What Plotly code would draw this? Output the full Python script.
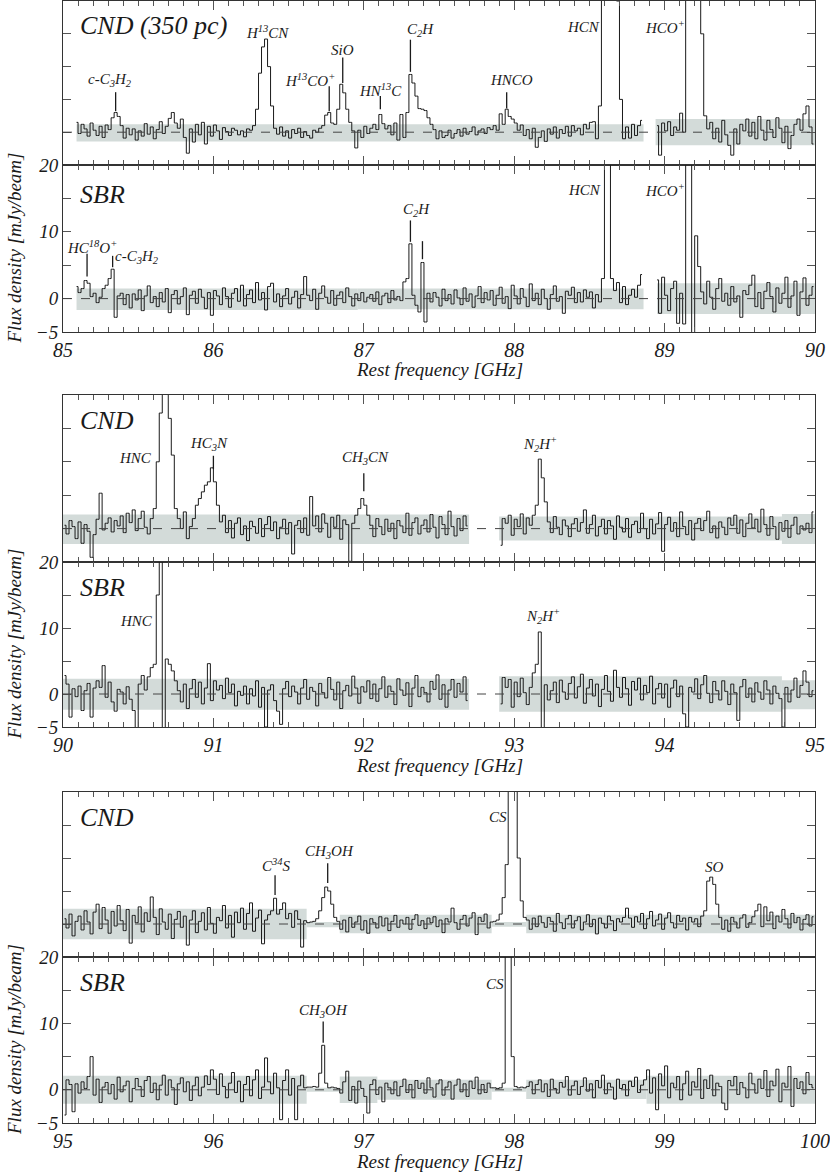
import numpy as np
import plotly.graph_objects as go

N = None
# ---------------- DATA (mJy/beam), channel width 0.02 GHz ----------------
# 85-90 GHz: channels start at 85.05 GHz
CND_85_90 = [
    N, N, 1.5, -0.2, 1.2, 0.5, -0.6, 1.4, 0.3, -0.5,
    0.9, -0.8, 1.1, 0.4, 2.2, 3.0, 2.4, 1.0, -0.9, 0.6,
    -0.4, 0.5, -1.2, 0.2, -0.6, 1.3, -0.3, 0.8, -1.0, 0.4,
    1.6, -0.2, 0.9, 2.1, 3.0, 1.4, 0.6, 2.0, -0.8, -3.2,
    0.5, -1.5, 1.2, -0.4, 1.5, -1.8, 0.9, -0.6, 1.1, 0.2,
    -1.1, 0.7, 0.1, -0.5, 0.6, 0.3, -0.4, 0.2, -0.7, 0.5,
    0.3, 1.0, 3.5, 9.0, 13.0, 14.2, 10.0, 4.0, 0.6, -0.3,
    0.8, -0.6, 0.2, -0.9, 0.4, -0.2, 0.6, -0.8, 0.1, -0.5,
    -0.9, 0.3, 0.0, 0.6, 1.0, 2.6, 3.0, 1.4, 1.2, 3.5,
    7.3, 6.0, 3.5, 1.5, 0.2, -2.4, 0.3, -0.8, 0.9, -0.2,
    0.6, 1.2, 0.4, 2.7, 1.3, 0.5, 1.0, -0.4, 1.4, -1.2,
    2.7, -0.8, 3.0, 8.8, 7.5, 5.5, 3.6, 3.5, 3.3, 2.2,
    1.2, 0.4, -1.0, 0.2, -0.8, -0.5, 0.3, -0.9, -0.2, 0.4,
    -0.6, 0.6, -0.3, 0.1, 0.8, -0.4, 0.2, 0.5, -0.2, 0.7,
    0.4, 1.0, 0.3, 2.8, 1.2, 3.5, 2.4, 2.0, 1.4, 0.3,
    1.1, -0.5, 0.4, -1.0, 0.6, -2.3, -0.8, 0.2, -1.4, 0.5,
    -0.3, 0.8, -0.9, 0.4, -0.2, 0.9, -0.6, 1.0, 0.2, 0.6,
    -0.4, 1.2, 0.5, 1.5, 1.6, -1.0, 4.0, 22.0, 40.0, 50.0,
    48.0, 38.0, 20.0, 5.0, -1.0, 0.8, -0.9, 1.2, -0.5, 1.0,
    1.8, N, N, N, N, 1.0, -3.5, 1.4, 0.2, 1.6,
    -0.5, 0.8, 0.3, 2.9, 0.0, 22.0, 45.0, 60.0, 58.0, 40.0,
    15.0, 2.5, 0.5, 1.5, -1.0, 0.6, -1.5, 1.8, -0.4, -2.0,
    -3.5, 0.5, -1.8, 1.2, 0.2, 2.0, -0.6, 1.5, -1.0, 2.4,
    0.3, -1.2, 1.8, 0.4, -0.8, 2.2, 0.6, -1.6, 0.9, -2.5,
    -0.5, 1.2, 2.0, 0.3, 2.8, 4.0, 0.8, -1.8,
]
SBR_85_90 = [
    N, N, 1.8, 0.9, 1.5, 2.7, 2.3, 0.3, 0.8, -0.6,
    0.2, 1.5, 2.0, 3.0, 4.4, -2.8, 0.4, 0.8, -0.9, 0.6,
    -1.4, 0.7, -0.2, 1.3, -1.8, 0.4, 1.9, -0.6, 0.3, -1.2,
    0.9, -0.5, 1.5, -2.1, 0.6, 1.2, -0.8, 0.3, 1.6, -2.4,
    0.5, 1.1, -0.7, 1.4, 0.2, -1.5, 0.9, -2.5, 1.2, 0.4,
    -0.9, 1.6, 0.3, -1.3, 0.8, 1.5, -0.4, 2.0, -1.1, 0.6,
    1.3, -0.6, 2.4, -0.2, 0.9, -1.7, 1.8, 2.3, -0.5, 0.7,
    -1.2, 0.4, 1.5, -0.8, 0.2, 1.1, -1.4, 0.6, 3.3, 0.5,
    -0.3, 1.4, -1.6, 0.8, 1.9, 0.2, -0.7, 1.2, -1.0, 0.5,
    1.0, -0.6, 1.6, 0.3, -1.1, 0.7, -0.3, 0.9, -0.5, 0.2,
    0.6, -0.4, 1.0, -0.9, 0.4, 0.8, -0.6, 1.2, -0.2, 0.3,
    -0.3, 2.5, 3.0, 8.2, 0.5, -1.0, -2.0, 5.4, -3.5, 0.8,
    -0.5, 0.9, 0.2, -1.1, 1.4, -0.3, 0.6, -0.8, 1.3, 0.1,
    -0.9, 1.6, -0.4, 0.7, -1.3, 0.4, 1.8, -0.6, 0.9, -0.2,
    1.2, -1.0, 0.5, 1.7, -0.7, 0.3, -1.5, 2.0, 0.4, -0.8,
    1.5, 0.2, -1.2, 2.2, -0.3, 0.8, -0.9, 1.4, 0.0, -1.6,
    0.6, 1.9, -0.4, 0.3, -2.2, 1.1, 0.5, 1.7, -0.6, 0.9,
    -0.5, 1.3, 0.2, 1.0, -1.4, 0.6, -0.5, 3.0, 40.0, 32.0,
    3.0, 1.2, 2.4, -0.6, 1.8, -0.9, 0.5, 1.4, 0.2, 2.0,
    3.6, N, N, N, N, 2.8, -2.2, 3.2, 0.5, -1.8,
    1.5, 2.6, -3.7, 0.8, -3.8, 40.0, 50.0, -8.0, 9.4, 4.8,
    1.0, -0.8, 2.6, 0.2, -1.6, 1.5, 3.0, -0.4, 0.8, -1.0,
    1.8, -0.5, 0.4, -2.8, 1.2, 0.6, 2.0, 3.5, -1.2, 0.9,
    -1.5, 1.1, 2.4, 0.3, -2.0, 1.6, -0.7, 0.8, 3.2, -1.3,
    0.4, 2.6, -2.5, 1.0, 3.1, -1.0, 0.5, 1.8,
]
# 90-95 GHz: channels start at 90.01 GHz
CND_90_95 = [
    0.5, -0.8, 1.2, 0.3, -1.5, 1.0, -2.2, 0.6, -0.4, -4.3,
    -0.9, 1.4, 5.3, -0.2, 0.8, 1.6, -0.5, 1.2, 0.4, 1.9,
    -0.6, 2.3, 0.9, 2.8, -0.3, 1.5, 2.6, 0.2, -0.8, 1.5,
    3.0, 10.0, 17.3, 22.0, 24.0, 16.5, 11.0, 3.0, 1.5, 0.0,
    2.5, -1.5, 0.3, 1.5, 3.5, 4.5, 5.5, 6.5, 7.0, 9.1,
    7.0, 3.5, 1.0, 2.0, -0.6, 1.2, -1.4, 0.8, 1.6, -0.9,
    0.4, -1.8, 1.1, 0.3, -0.7, 1.5, -1.2, 0.6, 1.8, -0.3,
    1.0, -1.5, 0.2, 1.4, -0.8, 0.9, -3.8, 0.5, 1.2, -0.6,
    1.6, -1.0, 4.8, 0.4, 1.9, -0.5, 2.2, 0.8, -1.3, 1.7,
    0.2, 2.0, -1.6, 1.3, 0.6, -4.9, 0.8, 2.0, 3.0, 4.5,
    3.5, 2.0, 0.5, -1.2, 1.5, 0.3, -0.9, 1.4, -0.4, 0.8,
    -1.5, 1.2, 0.4, -0.6, 2.3, -1.0, 0.9, 1.6, -0.8, 0.5,
    1.3, -0.5, 2.1, 0.2, -1.4, 1.8, 0.6, -0.9, 2.6, 0.3,
    -1.1, 1.5, -0.3, 1.9, 0.4, N, N, N, N, N,
    N, N, N, N, N, -2.5, 1.5, 0.8, 2.0, -1.0,
    1.4, 0.3, 2.2, -0.8, 1.6, 0.5, 2.0, 3.5, 10.4, 7.6,
    4.0, 1.0, -0.6, 1.8, 0.2, -0.9, 1.3, 0.4, -1.2, 0.7,
    1.5, -0.4, 0.9, 2.8, -0.7, 0.6, 2.0, -1.1, 0.3, 1.4,
    -0.8, 1.2, 0.4, -1.6, 1.9, 0.2, -0.5, 1.5, -1.3, 0.6,
    1.1, -0.6, 2.3, 0.0, -1.5, 1.4, -0.8, 0.7, 2.4, -3.4,
    0.6, 1.7, -0.4, 0.9, -1.2, 2.5, 0.3, -0.9, 1.2, -1.7,
    0.8, 1.5, -0.3, 1.2, 2.6, -0.6, 0.4, -1.4, 1.0, 0.2,
    -0.9, 1.6, 0.5, 2.0, -0.7, 1.3, -1.2, 0.8, 2.2, 0.1,
    1.4, -0.5, 2.9, 0.6, -1.0, 1.8, 0.3, -1.6, 0.9, -0.4,
    1.2, -1.3, 0.5, 1.7, -0.8, 0.4, -0.2, 0.8, -0.6, 2.5,
]
SBR_90_95 = [
    2.8, 1.5, -3.5, 0.8, -0.4, 1.2, -2.5, 0.5, 1.6, -3.5,
    0.9, 2.0, 1.0, 4.3, -0.5, 1.8, -1.2, -2.6, 0.7, 0.3,
    -1.5, 1.1, -0.8, -2.5, -5.5, 1.5, 2.8, 0.6, 2.6, 4.0,
    4.5, 15.0, 40.0, -8.0, 5.3, 4.5, 3.5, 2.0, 0.5, -1.2,
    1.5, -2.2, 0.8, 2.2, -0.5, 1.8, -1.5, 0.9, 4.6, -1.0,
    2.0, 0.6, 1.3, -0.7, 2.4, 0.2, 1.5, -1.8, 0.4, -0.2,
    1.2, -1.5, 0.8, -0.3, 2.0, -2.0, 1.0, -5.0, 0.6, 1.4,
    -1.0, -2.6, -4.6, 0.8, 1.9, -0.4, 1.2, 0.3, -1.5, 0.9,
    2.2, -0.8, 1.0, 0.4, -1.8, 1.6, 0.2, -0.6, 2.5, 0.7,
    -0.9, 1.8, -2.2, 0.5, 1.3, -0.3, 2.7, 0.9, -1.4, 1.1,
    0.3, 2.0, -0.7, 1.5, -1.1, 0.8, 2.6, -0.5, 1.2, 0.4,
    -1.6, 2.3, 0.6, -0.2, 1.7, -1.9, 0.9, 2.8, -0.4, 1.0,
    0.2, -1.2, 1.9, 0.7, 2.9, -0.8, 1.4, -2.0, 0.6, 2.2,
    -0.5, 1.6, 0.3, 2.6, -1.0, N, N, N, N, N,
    N, N, N, N, N, -1.5, 2.5, 1.0, 2.2, -2.0,
    1.8, -0.4, 2.4, 0.2, -1.6, 1.0, 3.2, 4.5, 9.4, -5.5,
    1.4, -0.9, 0.5, 1.8, -1.3, 2.1, 0.3, -0.8, 1.6, 2.6,
    -0.6, 1.1, 3.0, -1.4, 0.9, 2.2, -0.3, 1.5, -1.9, 0.7,
    2.8, 0.4, -1.1, 3.6, 1.0, -0.5, 2.5, 0.8, -1.7, 1.9,
    0.6, 2.4, -0.9, 1.3, 0.2, 2.7, -1.5, 0.8, 1.6, -0.6,
    1.5, -2.0, 0.9, 2.1, -0.4, 1.2, -3.0, -5.0, 1.0, 0.3,
    2.3, -0.7, 1.4, 2.8, 0.1, -1.3, 1.9, 0.5, -0.9, 2.0,
    0.4, -1.6, 1.5, 0.2, -4.0, 1.1, 2.2, -0.5, 0.9, -1.2,
    1.7, 0.3, -0.8, 2.0, 0.6, -1.5, 1.2, 0.1, -0.7, -5.0,
    1.0, -1.2, 0.6, 2.4, -0.5, 1.3, 3.5, 1.8, -0.4, 0.5,
]
# 95-100 GHz: channels start at 95.01 GHz
CND_95_100 = [
    0.8, -0.6, 1.5, -1.8, 0.4, 1.2, -0.9, 2.0, 0.3, -1.5,
    1.8, 3.0, -0.7, 2.5, 0.6, -1.4, 1.9, -0.3, 2.8, 0.5,
    -1.0, 2.2, -2.9, 1.3, 0.2, 2.6, -1.2, 1.7, 0.4, 4.1,
    1.0, -1.6, 2.3, 0.3, -0.8, 1.5, -2.2, 0.7, 1.9, -0.5,
    1.2, -3.2, 0.6, 2.0, -1.3, 0.4, 1.7, -0.9, 2.5, 0.1,
    -1.4, 1.0, 0.5, 2.8, -0.6, 1.3, -2.0, 1.8, 0.2, 2.4,
    -0.8, 1.6, 3.2, -1.1, 0.9, 2.1, -3.0, 0.6, 1.4, 2.0,
    3.9, 1.5, 2.2, 3.2, 0.8, 1.6, -0.5, 2.0, 0.7, -3.5,
    0.5, 0.2, 0.3, 0.4, 0.8, 2.0, 4.0, 5.6, 5.0, 3.0,
    1.0, 0.4, -0.8, 0.6, -1.2, 1.0, -0.5, 0.3, 1.2, -0.9,
    0.5, -1.4, 0.8, 0.2, -0.6, 1.1, -0.3, 0.9, -1.0, 0.4,
    1.3, -0.5, 0.6, 0.0, 1.0, -0.8, 0.7, 1.4, -0.2, 0.5,
    -0.7, 0.9, 0.2, 1.1, -0.4, 0.6, -1.3, 0.8, 0.3, 2.4,
    0.2, -0.8, 0.7, 1.3, -0.3, 0.9, 1.7, -1.6, 1.0, 0.4,
    1.5, -0.6, 0.3, 0.4, 0.6, 1.5, 4.0, 9.0, 22.0, 30.0,
    22.0, 10.0, 3.5, 1.0, 0.6, -0.8, 0.9, -0.4, 1.2, 0.2,
    -0.5, 1.0, 0.4, -1.1, 1.6, 0.2, -0.7, 0.8, 1.3, -0.6,
    0.5, 1.1, -0.9, 0.3, 1.4, -0.4, 0.7, -1.5, 0.9, 0.1,
    -0.6, 1.2, 0.5, -1.0, 0.8, 0.3, 1.0, 2.4, 0.9, -0.5,
    1.1, 0.3, 1.6, -0.7, 0.8, 1.9, -0.3, 0.6, 1.5, -0.8,
    0.9, 1.7, 0.2, -0.6, 1.3, 0.4, 0.9, -0.9, 1.0, 0.3,
    0.8, -0.4, 1.2, 2.0, 6.5, 7.1, 6.0, 3.0, 1.0, -0.8,
    0.6, -1.1, 1.0, 0.3, -0.6, 0.9, 1.4, -0.5, 0.2, 1.1,
    2.0, 3.0, -0.4, 2.6, 0.5, 1.8, -0.7, 1.2, 0.3, 2.2,
    0.8, -0.6, 1.6, 0.2, 1.0, -0.9, 0.7, 1.4, -0.3, 1.1,
]
SBR_95_100 = [
    -3.8, 1.5, 0.8, -3.3, 0.9, -0.5, 1.2, 0.2, 2.0, 5.0,
    -0.8, 1.6, -1.9, 0.4, 1.1, -0.6, 0.8, -1.4, 1.9, -0.3,
    0.6, 1.3, -1.8, 0.2, 1.7, 0.5, -1.0, 1.4, 2.0, -0.4,
    1.0, -1.5, 0.7, 2.2, -0.8, 1.5, 0.3, -2.2, 0.9, 1.8,
    -0.3, 1.2, -1.6, 0.6, 1.9, -0.9, 0.4, 2.1, 0.8, 3.0,
    1.6, -0.7, 2.4, 0.5, -1.2, 1.0, 2.6, -0.4, 1.3, -1.8,
    0.8, 2.0, -0.9, 1.5, 3.0, -1.3, 0.4, 4.8, 1.2, -0.6,
    2.5, 0.3, -4.5, 1.4, 3.0, -0.8, 1.7, -4.5, 0.6, 2.2,
    0.3, 0.4, 0.4, 0.5, 0.4, 2.5, 6.7, 1.0, 0.3, 0.4,
    0.3, 0.2, -0.5, 1.2, 2.8, -1.6, 0.5, -2.0, 1.3, 0.2,
    -1.0, -3.5, 0.8, 1.5, -0.7, 0.4, -1.8, 1.0, 0.3, -0.6,
    1.2, -0.9, 0.5, 1.6, -0.4, 0.8, -1.2, 1.4, 0.2, 1.0,
    -0.5, 1.8, 0.3, -1.1, 0.9, 1.5, -0.8, 0.4, 1.2, -1.4,
    0.7, 1.6, -0.3, 0.9, -1.0, 1.3, 0.2, 1.9, -0.6, 0.8,
    -0.4, 1.0, 0.3, 0.3, 0.2, 0.3, 1.0, 25.0, 30.0, 5.0,
    0.5, 0.3, 0.4, 0.3, 0.5, 1.2, -0.6, 0.8, 1.5, -0.3,
    0.9, -1.0, 1.6, 0.2, -0.5, 1.1, 0.4, 2.0, -0.8, 0.6,
    1.3, -0.7, 0.5, 1.8, -0.2, 0.9, -1.2, 1.4, 0.3, 2.2,
    -0.6, 1.0, 0.4, -1.4, 1.6, 0.2, 0.8, -0.9, 1.3, 0.5,
    1.9, -0.4, 0.7, 1.5, 3.0, -0.5, 1.8, -3.0, 2.4, 0.6,
    3.6, -1.2, 1.0, 0.3, 2.0, -1.5, 0.9, 2.8, -0.8, 1.2,
    0.4, 3.2, -1.3, 1.5, 0.2, 2.2, -0.9, 1.0, 0.5, -2.0,
    -3.0, 1.4, 0.6, 2.0, -0.7, 1.1, 0.3, -1.2, 2.5, 0.9,
    -0.5, 1.6, 0.2, 2.9, -1.0, 1.3, 0.6, 3.1, -1.8, 1.0,
    0.4, 3.5, -2.5, 1.7, 0.2, 1.2, -0.6, 2.6, 0.8, 0.3,
]
CHANNEL_START = [85.05, 85.05, 90.01, 90.01, 95.01, 95.01]
CHANNEL_WIDTH = 0.02
FREQ_RANGES = [(85, 90), (85, 90), (90, 95), (90, 95), (95, 100), (95, 100)]

# noise (1 sigma) bands: start GHz, end GHz, low, high
BANDS = [
    [(85.09, 88.86, -1.4, 1.2), (88.94, 90.0, -2.0, 2.0)],
    [(85.09, 86.96, -1.7, 1.5), (86.96, 88.86, -1.6, 1.5), (88.95, 90.0, -2.3, 2.3)],
    [(90.0, 92.70, -2.3, 2.1), (92.90, 94.78, -1.8, 1.8), (94.78, 95.0, -2.3, 2.2)],
    [(90.0, 92.70, -2.4, 2.3), (92.90, 94.78, -2.7, 2.7), (94.78, 95.0, -2.3, 2.1)],
    [(95.0, 96.62, -2.3, 2.3), (96.62, 96.84, -0.5, 0.3), (96.84, 97.85, -1.4, 1.4),
     (97.85, 98.08, -0.4, 0.3), (98.08, 100.0, -1.4, 1.4)],
    [(95.0, 96.62, -2.1, 2.1), (96.62, 96.84, -0.3, 0.3), (96.84, 97.09, -2.0, 2.0),
     (97.09, 97.85, -1.5, 1.5), (97.85, 98.08, -0.3, 0.3), (98.08, 98.88, -1.4, 1.5),
     (98.88, 100.0, -2.1, 2.1)],
]
PANEL_NAMES = ["CND (350 pc)", "SBR", "CND", "SBR", "CND", "SBR"]
SPECTRA = [CND_85_90, SBR_85_90, CND_90_95, SBR_90_95, CND_95_100, SBR_95_100]
Y_TICKS = [-5, 0, 10, 20]

# line identifications: label, label freq, label height, marker freq, marker y0, y1
LINE_IDS = [
    [("c-C<sub>3</sub>H<sub>2</sub>", 85.31, 8.0, 85.35, 3.2, 6.1),
     ("H<sup>13</sup>CN", 86.36, 15.2, None, 0, 0),
     ("H<sup>13</sup>CO<sup>+</sup>", 86.64, 8.0, 86.77, 3.2, 7.0),
     ("SiO", 86.86, 12.6, 86.86, 7.5, 11.4),
     ("HN<sup>13</sup>C", 87.11, 6.5, 87.11, 3.5, 5.5),
     ("C<sub>2</sub>H", 87.38, 15.6, 87.31, 9.2, 14.1),
     ("HNCO", 87.985, 7.9, 87.95, 3.6, 6.1),
     ("HCN", 88.46, 16.1, None, 0, 0),
     ("HCO<sup>+</sup>", 89.00, 16.1, None, 0, 0)],
    [("HC<sup>18</sup>O<sup>+</sup>", 85.19, 7.7, 85.16, 3.3, 6.7),
     ("c-C<sub>3</sub>H<sub>2</sub>", 85.49, 6.2, 85.33, 4.7, 6.4),
     ("C<sub>2</sub>H", 87.35, 13.3, 87.31, 8.5, 11.7),
     ("", 87.39, 0, 87.39, 5.9, 8.6),
     ("HCN", 88.47, 16.2, None, 0, 0),
     ("HCO<sup>+</sup>", 89.00, 16.2, None, 0, 0)],
    [("HNC", 90.48, 10.6, None, 0, 0),
     ("HC<sub>3</sub>N", 90.97, 12.7, 91.00, 8.9, 10.9),
     ("CH<sub>3</sub>CN", 92.01, 10.5, 92.00, 5.6, 8.3),
     ("N<sub>2</sub>H<sup>+</sup>", 93.17, 12.7, None, 0, 0)],
    [("HNC", 90.49, 11.1, None, 0, 0),
     ("N<sub>2</sub>H<sup>+</sup>", 93.19, 11.8, None, 0, 0)],
    [("C<sup>34</sup>S", 96.42, 8.9, 96.41, 4.4, 7.4),
     ("CH<sub>3</sub>OH", 96.77, 10.9, 96.76, 6.2, 9.2),
     ("CS", 97.89, 16.2, None, 0, 0),
     ("SO", 99.33, 8.6, None, 0, 0)],
    [("CH<sub>3</sub>OH", 96.73, 11.8, 96.73, 7.1, 10.3),
     ("CS", 97.87, 15.9, None, 0, 0)],
]

# ---------------- LAYOUT ----------------
W, H = 830, 1173
PX_LEFT, PX_RIGHT = 63, 815
PX_TOP = [1, 165, 395, 562, 792, 957]
PX_BOT = [165, 332, 562, 727, 957, 1123]
SERIF = "Liberation Serif, Times New Roman, Times, DejaVu Serif, serif"
INK = "#1a1a1a"
TICK = "#555555"
BAND = "#d3dbd9"

fig = go.Figure()
layout = dict(
    width=W, height=H, margin=dict(l=0, r=0, t=0, b=0, autoexpand=False),
    paper_bgcolor="white", plot_bgcolor="white", showlegend=False,
    font=dict(family=SERIF, color=INK),
)
shapes, annotations = [], []
xdom = [PX_LEFT / W, PX_RIGHT / W]

for p in range(6):
    k = p + 1
    xs = "x" if k == 1 else f"x{k}"
    ys = "y" if k == 1 else f"y{k}"
    xa = "xaxis" if k == 1 else f"xaxis{k}"
    ya = "yaxis" if k == 1 else f"yaxis{k}"
    vals = SPECTRA[p]
    freqs = np.round(CHANNEL_START[p] + CHANNEL_WIDTH * np.arange(len(vals)), 3)
    is_sbr = PANEL_NAMES[p] == "SBR"
    lo, hi = FREQ_RANGES[p]

    fig.add_trace(go.Scatter(
        x=freqs, y=vals, mode="lines", xaxis=xs, yaxis=ys,
        line=dict(color=INK, width=1.0, shape="hvh"), connectgaps=False,
        hoverinfo="skip"))

    layout[xa] = dict(
        domain=xdom, anchor=ys, range=[lo, hi], showgrid=False, zeroline=False,
        automargin=False,
        showline=True, linecolor="#333", linewidth=1, mirror="allticks",
        ticks="inside", ticklen=9, tickwidth=1.3, tickcolor=TICK,
        tickmode="linear", tick0=lo, dtick=1,
        showticklabels=is_sbr,
        tickfont=dict(family=SERIF, size=20, style="italic", color=INK),
        minor=dict(tickmode="linear", tick0=lo, dtick=0.1, ticks="inside",
                   ticklen=5, tickwidth=1, tickcolor=TICK, showgrid=False),
    )
    dom_y = [1 - PX_BOT[p] / H, 1 - PX_TOP[p] / H]
    layout[ya] = dict(
        domain=dom_y, anchor=xs, range=[-5, 20], showgrid=False, zeroline=False,
        automargin=False,
        showline=True, linecolor="#333", linewidth=1, mirror="allticks",
        ticks="inside", ticklen=8, tickwidth=1.2, tickcolor=TICK,
        tickmode="array", tickvals=Y_TICKS,
        showticklabels=is_sbr,
        tickfont=dict(family=SERIF, size=19, style="italic", color=INK),
        minor=dict(tickmode="linear", tick0=0, dtick=5, ticks="inside",
                   ticklen=8, tickwidth=1.2, tickcolor=TICK, showgrid=False),
    )

    for (b0, b1, blo, bhi) in BANDS[p]:
        shapes.append(dict(type="rect", xref=xs, yref=ys, x0=b0, x1=b1, y0=blo, y1=bhi,
                           fillcolor=BAND, line=dict(width=0), layer="below"))
    shapes.append(dict(type="line", xref=xs, yref=ys, x0=lo, x1=hi, y0=0, y1=0,
                       line=dict(color="#444", width=1, dash="dash"), layer="above"))

    # panel name
    annotations.append(dict(
        x=78 / W, xref="paper", xanchor="left",
        y=dom_y[1] - (25 if p != 1 else 30) / H, yref="paper", yanchor="middle",
        text=f"<i>{PANEL_NAMES[p]}</i>", showarrow=False,
        font=dict(family=SERIF, size=26, color=INK)))

    for (txt, lf, ly, mf, m0, m1) in LINE_IDS[p]:
        if txt:
            annotations.append(dict(x=lf, y=ly, xref=xs, yref=ys, text=f"<i>{txt}</i>",
                                    showarrow=False, xanchor="center", yanchor="middle",
                                    font=dict(family=SERIF, size=15, color=INK)))
        if mf is not None:
            shapes.append(dict(type="line", xref=xs, yref=ys, x0=mf, x1=mf, y0=m0, y1=m1,
                               line=dict(color=INK, width=1.3)))

    if is_sbr:
        annotations.append(dict(
            x=(PX_LEFT + PX_RIGHT) / 2 / W, xref="paper", xanchor="center",
            y=1 - (PX_BOT[p] + 38) / H, yref="paper", yanchor="middle",
            text="<i>Rest frequency [GHz]</i>", showarrow=False,
            font=dict(family=SERIF, size=19, color=INK)))
        annotations.append(dict(
            x=14 / W, xref="paper", xanchor="center",
            y=1 - (PX_TOP[p] + PX_BOT[p]) / 2 / H, yref="paper", yanchor="middle",
            text="<i>Flux density [mJy/beam]</i>", textangle=-90, showarrow=False,
            font=dict(family=SERIF, size=19, color=INK)))

layout["shapes"] = shapes
layout["annotations"] = annotations
fig.update_layout(**layout)
fig.write_html(
    "out.html",
    config={"displayModeBar": False},
    post_script="document.body.style.margin='0';document.body.style.padding='0';"
                "document.documentElement.style.overflow='hidden';",
)
